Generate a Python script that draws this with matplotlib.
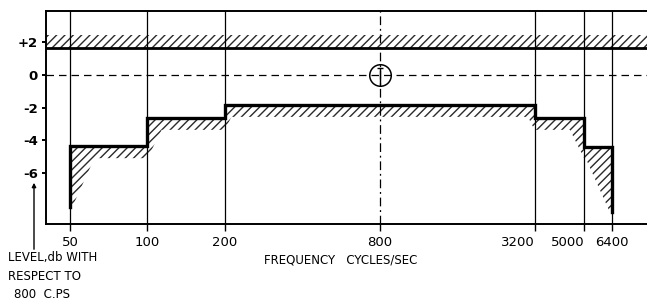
import numpy as np
import matplotlib
matplotlib.use("Agg")
import matplotlib.pyplot as plt
from matplotlib.patches import Polygon

# ---- data ----
edges = [50, 100, 200, 3200, 5000, 6400]          # Hz, band edges
levels = [-4.35, -2.62, -1.83, -2.62, -4.38]      # dB lower tolerance per band
end_left, end_right = -8.05, -8.35                # dB, bottom of end drops
upper_limit = 1.65                                # dB upper tolerance
ref_freq = 800
xtick_vals = [50, 100, 200, 800, 3200, 5000, 6400]
xtick_labels = ["50", "100", "200", "800", "3200", "5000", "6400"]
ytick_vals = [2, 0, -2, -4, -6]
ytick_labels = ["+2", "0", "-2", "-4", "-6"]

W, H = 647, 302
plt.rcParams["hatch.linewidth"] = 1.0
fig = plt.figure(figsize=(W / 100, H / 100), dpi=100)
ax = fig.add_axes([46 / W, 1 - 224 / H, 1 - 46 / W, (224 - 11) / H])
ax.set_xscale("log", base=2)
ax.set_xlim(40.3, 8763)
ax.set_ylim(-9.1, 3.9)

hcol = "#2a2a2a"

# pixel scales (for building hatch band geometry)
ppo = (W - 46) / np.log2(8763 / 40.3)    # px per octave
ppd = (224 - 11) / (3.9 + 9.1)           # px per dB
band_px = 12
d = band_px / ppd

def xshift(x, px):
    return x * 2 ** (px / ppo)

# ---- step line ----
sx = [edges[0]]
sy = [end_left]
for i, lv in enumerate(levels):
    sx += [edges[i], edges[i + 1]]
    sy += [lv, lv]
sx.append(edges[-1])
sy.append(end_right)
ax.plot(sx, sy, color="black", lw=2.4, solid_joinstyle="miter", zorder=4)

# ---- hatched band below the step line ----
k = 0.5
outer = []
outer.append((xshift(edges[0], 3), end_left + 0.1))
for i, lv in enumerate(levels):
    x0, x1 = edges[i], edges[i + 1]
    if i == 0:
        rise = (lv - d) - end_left
        outer.append((xshift(x0, min(k * rise * ppd, 26)), lv - d))
    else:
        pl = levels[i - 1]
        if lv > pl:  # rising step: slant to the right
            outer.append((x0, pl - d))
            outer.append((xshift(x0, k * (lv - pl) * ppd), lv - d))
        else:        # falling step: slant to the left
            outer.append((xshift(x0, -k * (pl - lv) * ppd), pl - d))
            outer.append((x0, lv - d))
    if i == len(levels) - 1:
        drop = (lv - d) - end_right
        outer.append((xshift(x1, -min(k * drop * ppd, 26)), lv - d))
outer.append((xshift(edges[-1], -3), end_right + 0.1))
inner = list(zip(sx, sy))
poly = inner + outer[::-1]
ax.add_patch(Polygon(poly, closed=True, facecolor="none", edgecolor=hcol,
                     lw=0, hatch="////", zorder=2))

# ---- upper limit ----
ax.axhline(upper_limit, color="black", lw=2.0, zorder=4)
ax.fill_between([40.3, 8763], upper_limit, upper_limit + 13 / ppd,
                facecolor="none", edgecolor=hcol, lw=0, hatch="////", zorder=2)

# ---- grid verticals ----
for f in edges:
    ax.axvline(f, color="black", lw=0.9, zorder=3)
ax.axvline(ref_freq, color="black", lw=0.9, ls=(0, (7, 3, 1.5, 3)), zorder=3)
ax.axhline(0, color="black", lw=0.9, ls=(0, (6, 4)), zorder=3)

# reference circle
ax.plot([ref_freq], [0], marker="o", ms=15.5, mfc="none", mec="black",
        mew=1.1, zorder=5)
ax.plot([ref_freq, ref_freq], [-0.6, 0.45], color="black", lw=1.0, zorder=6)
ax.plot([ref_freq], [0.45], marker="_", ms=5, mec="black", mew=1.0, zorder=6)

# ---- axes styling ----
for s in ["left", "bottom", "top"]:
    ax.spines[s].set_linewidth(1.4)
ax.spines["right"].set_visible(False)
ax.set_xticks(xtick_vals)
ax.set_xticklabels(xtick_labels, fontsize=9.5)
ax.xaxis.set_minor_locator(matplotlib.ticker.NullLocator())
ax.set_yticks(ytick_vals)
ax.set_yticklabels(ytick_labels, fontsize=9.5, fontweight="bold")
ax.tick_params(axis="x", length=5, width=1.0, pad=4)
ax.tick_params(axis="y", length=3, width=1.4, pad=3)
for lab in ax.get_xticklabels():
    if lab.get_text() in ("3200", "5000"):
        lab.set_ha("right")

fig.text(341 / W, 1 - 260 / H, "FREQUENCY   CYCLES/SEC", fontsize=8.5,
         ha="center", va="center")
fig.text(8 / W, 1 - 258 / H, "LEVEL,db WITH", fontsize=8.5, ha="left", va="center")
fig.text(8 / W, 1 - 277 / H, "RESPECT TO", fontsize=8.5, ha="left", va="center")
fig.text(14 / W, 1 - 295 / H, "800  C.PS", fontsize=8.5, ha="left", va="center")
fig.add_artist(matplotlib.patches.FancyArrowPatch(
    (34 / W, 1 - 252 / H), (34 / W, 1 - 180 / H), transform=fig.transFigure,
    arrowstyle="-|>", mutation_scale=6, color="black", lw=1.0))

fig.savefig("out.png", dpi=100, facecolor="white")
